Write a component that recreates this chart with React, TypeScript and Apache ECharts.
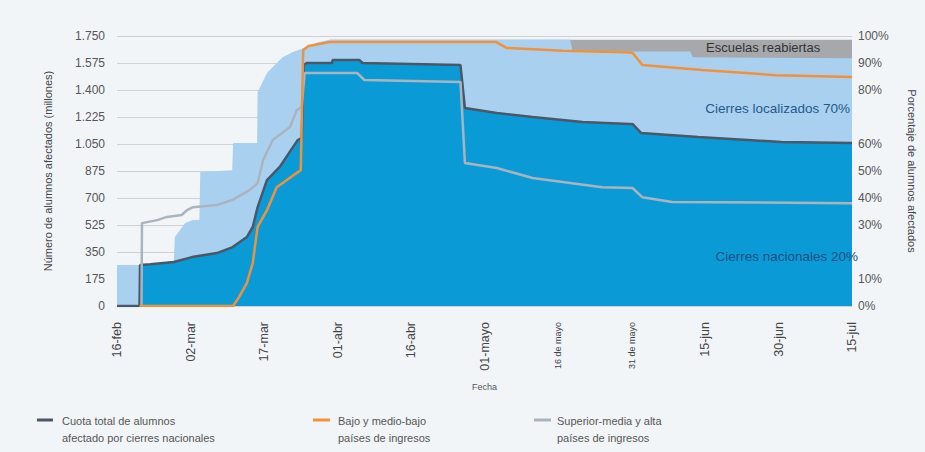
import React, { useEffect, useRef } from "react";
import * as echarts from "echarts";

// Day index 0 = 16-feb-2020, 150 = 15-jul-2020
const tickLabels = ["16-feb", "02-mar", "17-mar", "01-abr", "16-abr", "01-mayo", "16 de mayo", "31 de mayo", "15-jun", "30-jun", "15-jul"];
const smallTicks = ["16 de mayo", "31 de mayo"];

// Millions of learners affected by national closures (top of dark blue area)
const nationalTotal: [number, number][] = [
  [0, 0], [4.6, 0], [4.7, 266], [6.8, 270], [11.6, 285], [15.3, 317], [20.4, 343], [23.6, 382],
  [26.5, 447], [27.7, 512], [28.7, 641], [30.6, 816], [33.2, 901], [35.9, 1030], [36.9, 1076],
  [37.7, 1090], [38.1, 1562], [38.7, 1575], [43.9, 1575], [44.0, 1594], [49.5, 1594], [50.1, 1575],
  [70.1, 1562], [71.0, 1283], [77.5, 1251], [84.8, 1225], [95, 1192], [104.6, 1180], [105.2, 1180],
  [107.0, 1121], [118.6, 1095], [135.6, 1063], [150, 1056],
];

// Millions of learners affected incl. localized closures (top of light blue area)
const localizedTop: [number, number][] = [
  [0, 266], [4.6, 266], [4.7, 266], [6.8, 270], [11.6, 285], [11.8, 447], [13.9, 538], [15.5, 557],
  [16.8, 557], [17.0, 868], [23.5, 880], [23.7, 1056], [28.6, 1056], [28.7, 1387], [30.6, 1510],
  [32.2, 1562], [33.8, 1613], [35.9, 1646], [37.7, 1668], [38.7, 1680], [41, 1710], [43.4, 1725],
  [92.5, 1725], [93.0, 1650], [117, 1650], [117.5, 1612], [150, 1605],
];

// Top of "Escuelas reabiertas" band (millions)
const reopenedTop: [number, number][] = [[43.4, 1725], [150, 1725]];

// Percent of learners affected, low and lower-middle income countries
const lowIncomePct: [number, number][] = [
  [4.6, 0], [23.7, 0], [24.9, 3.3], [26.5, 8.5], [27.7, 15.9], [28.7, 29.3], [30.6, 35.5],
  [32.6, 44], [34.6, 46.6], [36.7, 49.3], [37.5, 50.3], [38.0, 94.8], [39.1, 96.3], [43.4, 97.8],
  [77.3, 97.8], [79.5, 95.6], [91, 94.5], [103.5, 94], [105.2, 93.8], [107.2, 89.3], [119.4, 87.4],
  [134.5, 85.5], [150, 84.8],
];

// Percent of learners affected, upper-middle and high income countries
const highIncomePct: [number, number][] = [
  [5, 0], [5.1, 30.7], [8.2, 31.8], [10.2, 33], [13.2, 33.7], [14.3, 35.5], [15.5, 36.6],
  [20.4, 37.4], [23.6, 39.3], [27.1, 43], [28.7, 45.5], [29.8, 54], [31.8, 61.5], [35.3, 66.3],
  [36.7, 72.6], [37.7, 73.7], [38.3, 86.3], [49, 86.3], [50.5, 83.7], [70.1, 83], [71.0, 53],
  [77.5, 51.1], [84.8, 47.4], [99, 44], [105.2, 43.7], [107.2, 40.3], [113.3, 38.5], [150, 38.1],
];

const hiddenPctTicks = [20, 70];

const FONT = "Liberation Sans, Arial, sans-serif";
const BG = "#f2f5f8";

export default function App() {
  const ref = useRef<HTMLDivElement>(null);
  useEffect(() => {
    if (!ref.current) return;
    const chart = echarts.init(ref.current, undefined, { renderer: "svg" });
    const legendText = { fontFamily: FONT, fontSize: 11, fill: "#555", lineHeight: 17 };
    chart.setOption({
      animation: false,
      backgroundColor: BG,
      textStyle: { fontFamily: FONT },
      grid: { left: 117, right: 68, top: 36, bottom: 146, containLabel: false },
      xAxis: {
        type: "value",
        min: 0,
        max: 150,
        interval: 15,
        name: "Fecha",
        nameLocation: "middle",
        nameGap: 76,
        nameTextStyle: { fontSize: 9, color: "#555" },
        axisLine: { show: false },
        axisTick: { show: false },
        splitLine: { show: false },
        axisLabel: {
          rotate: 90,
          margin: 16,
          fontSize: 12.5,
          color: "#444",
          formatter: (v: number) => {
            const t = tickLabels[Math.round(v / 15)] || "";
            return smallTicks.includes(t) ? "{s|" + t + "}" : t;
          },
          rich: { s: { fontSize: 9, color: "#444" } },
        },
      },
      yAxis: [
        {
          type: "value",
          min: 0,
          max: 1750,
          interval: 175,
          position: "left",
          name: "Número de alumnos afectados (millones)",
          nameLocation: "middle",
          nameRotate: 90,
          nameGap: 64,
          nameTextStyle: { fontSize: 11, color: "#444" },
          axisLine: { show: false },
          axisTick: { show: false },
          axisLabel: {
            fontSize: 12,
            color: "#555",
            margin: 12,
            formatter: (v: number) => (v >= 1000 ? Math.floor(v / 1000) + "." + String(v % 1000).padStart(3, "0") : String(v)),
          },
          splitLine: { lineStyle: { color: "#cdd2d7", width: 1 } },
        },
        {
          type: "value",
          min: 0,
          max: 100,
          interval: 10,
          position: "right",
          name: "Porcentaje de alumnos afectados",
          nameLocation: "middle",
          nameRotate: -90,
          nameGap: 54,
          nameTextStyle: { fontSize: 11, color: "#444" },
          axisLine: { show: false },
          axisTick: { show: false },
          splitLine: { show: false },
          axisLabel: {
            fontSize: 12,
            color: "#555",
            margin: 6,
            formatter: (v: number) => (hiddenPctTicks.includes(v) ? "" : v + "%"),
          },
        },
      ],
      series: [
        {
          type: "line", data: reopenedTop, yAxisIndex: 0, symbol: "none", z: 1, silent: true,
          lineStyle: { width: 0 }, areaStyle: { color: "#a6a8ac", opacity: 1 },
        },
        {
          type: "line", data: localizedTop, yAxisIndex: 0, symbol: "none", z: 2, silent: true,
          lineStyle: { width: 0 }, areaStyle: { color: "#aad0f0", opacity: 1 },
        },
        {
          type: "line", data: nationalTotal, yAxisIndex: 0, symbol: "none", z: 3, silent: true,
          lineStyle: { width: 2.5, color: "#4b5766" }, areaStyle: { color: "#0a9bd7", opacity: 1 },
        },
        {
          type: "line", data: highIncomePct, yAxisIndex: 1, symbol: "none", z: 4, silent: true,
          lineStyle: { width: 2.5, color: "#a9b4bf" },
        },
        {
          type: "line", data: lowIncomePct, yAxisIndex: 1, symbol: "none", z: 5, silent: true,
          lineStyle: { width: 2.5, color: "#f0923c" },
        },
      ],
      graphic: [
        { type: "text", left: 706, top: 41, z: 10, style: { text: "Escuelas reabiertas", fontFamily: FONT, fontSize: 13, fill: "#333" } },
        { type: "text", right: 75, top: 101, z: 10, style: { text: "Cierres localizados 70%", fontFamily: FONT, fontSize: 13.5, fill: "#1f5a8c" } },
        { type: "text", right: 67, top: 249, z: 10, style: { text: "Cierres nacionales 20%", fontFamily: FONT, fontSize: 13.5, fill: "#1a4f80" } },
        { type: "line", shape: { x1: 37, y1: 420, x2: 53, y2: 420 }, style: { stroke: "#4b5766", lineWidth: 3 } },
        { type: "text", left: 62, top: 412, style: { ...legendText, text: "Cuota total de alumnos\nafectado por cierres nacionales" } },
        { type: "line", shape: { x1: 313, y1: 420, x2: 330, y2: 420 }, style: { stroke: "#f0923c", lineWidth: 3 } },
        { type: "text", left: 338, top: 412, style: { ...legendText, text: "Bajo y medio-bajo\npaíses de ingresos" } },
        { type: "line", shape: { x1: 534, y1: 420, x2: 551, y2: 420 }, style: { stroke: "#a9b4bf", lineWidth: 3 } },
        { type: "text", left: 557, top: 412, style: { ...legendText, text: "Superior-media y alta\npaíses de ingresos" } },
      ],
    });
    return () => chart.dispose();
  }, []);
  return (
    <div
      ref={ref}
      style={{ position: "fixed", left: 0, top: 0, width: 925, height: 452, background: BG }}
    />
  );
}
